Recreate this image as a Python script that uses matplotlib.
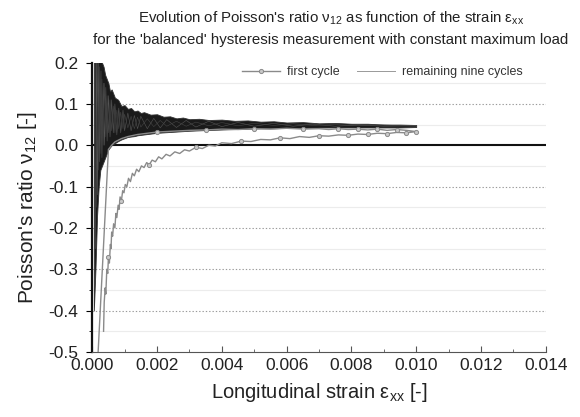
import matplotlib
matplotlib.use('Agg')
import matplotlib.pyplot as plt
from matplotlib.ticker import MultipleLocator, FormatStrFormatter

plt.rcParams['font.family'] = ['Liberation Sans', 'DejaVu Sans']
plt.rcParams['mathtext.fontset'] = 'custom'
plt.rcParams['mathtext.rm'] = 'Liberation Sans'
plt.rcParams['mathtext.it'] = 'Liberation Sans'
plt.rcParams['axes.unicode_minus'] = False

# remaining nine cycles: envelope of the dense band
nine_strain = [0.00005, 0.0001, 0.00015, 0.0002, 0.00025, 0.0003, 0.00035, 0.0004,
               0.00045, 0.0005, 0.00055, 0.0006, 0.0007, 0.0008, 0.0009, 0.001,
               0.0011, 0.0012, 0.0013, 0.0014, 0.0015, 0.0016, 0.0018, 0.002,
               0.0022, 0.0024, 0.0026, 0.0028, 0.003, 0.0033, 0.0036, 0.004,
               0.0044, 0.0048, 0.0052, 0.0056, 0.006, 0.0065, 0.007, 0.0075,
               0.008, 0.0085, 0.009, 0.0095, 0.01]
nine_upper = [0.25, 0.25, 0.25, 0.25, 0.22, 0.20, 0.19, 0.17,
              0.16, 0.15, 0.13, 0.135, 0.115, 0.11, 0.095, 0.097,
              0.088, 0.09, 0.082, 0.084, 0.078, 0.08, 0.074, 0.075,
              0.069, 0.07, 0.065, 0.067, 0.063, 0.064, 0.061, 0.062,
              0.059, 0.06, 0.057, 0.058, 0.055, 0.056, 0.053, 0.054,
              0.052, 0.052, 0.050, 0.050, 0.049]
nine_lower = [-0.40, -0.30, -0.17, -0.10, -0.06, -0.05, -0.04, -0.03,
              -0.02, -0.01, -0.005, 0.0, 0.005, 0.010, 0.014, 0.017,
              0.020, 0.021, 0.022, 0.024, 0.025, 0.026, 0.028, 0.030,
              0.031, 0.032, 0.033, 0.034, 0.035, 0.036, 0.037, 0.038,
              0.039, 0.040, 0.041, 0.041, 0.042, 0.042, 0.043, 0.043,
              0.043, 0.043, 0.043, 0.043, 0.044]

# two traces of single cycles inside the band
trace_strain = [0.0001, 0.00013, 0.00016, 0.0002, 0.00023, 0.00027, 0.0003, 0.00034,
                0.00038, 0.00042, 0.00046, 0.0005, 0.00055, 0.0006, 0.00065, 0.0007,
                0.00076, 0.00082, 0.00088, 0.00095, 0.001, 0.0011, 0.0012, 0.0013,
                0.0014, 0.0015, 0.0017, 0.0019, 0.0021, 0.0023, 0.0026, 0.0029,
                0.0032, 0.0036, 0.004, 0.0045, 0.005, 0.0056, 0.0062, 0.0068,
                0.0075, 0.0082, 0.009, 0.01]
trace_a = [-0.25, 0.22, -0.12, 0.2, -0.04, 0.18, -0.03, 0.15,
           0.0, 0.14, 0.01, 0.12, 0.02, 0.11, 0.03, 0.10,
           0.025, 0.09, 0.03, 0.085, 0.035, 0.078, 0.035, 0.072,
           0.04, 0.07, 0.04, 0.065, 0.042, 0.062, 0.043, 0.06,
           0.044, 0.058, 0.045, 0.055, 0.046, 0.053, 0.046, 0.051,
           0.046, 0.049, 0.046, 0.047]
trace_b = [0.25, -0.15, 0.21, -0.06, 0.19, -0.02, 0.16, 0.0,
           0.15, 0.02, 0.12, 0.03, 0.11, 0.035, 0.095, 0.03,
           0.085, 0.04, 0.08, 0.04, 0.075, 0.042, 0.07, 0.04,
           0.068, 0.044, 0.064, 0.045, 0.06, 0.046, 0.058, 0.046,
           0.056, 0.047, 0.055, 0.047, 0.053, 0.048, 0.052, 0.048,
           0.05, 0.047, 0.049, 0.046]

# first cycle: loading branch then unloading branch
first_strain = [0.00035, 0.00037, 0.0004, 0.00042, 0.00045, 0.00048, 0.0005, 0.00053,
                0.00056, 0.00058, 0.0006, 0.00063, 0.00066, 0.0007, 0.00073, 0.00076,
                0.0008, 0.00083, 0.00086, 0.0009, 0.00094, 0.00098, 0.00102, 0.00107,
                0.00112, 0.00118, 0.00124, 0.0013, 0.00137, 0.00144, 0.00152, 0.0016,
                0.00168, 0.00176, 0.00185, 0.00195, 0.00205, 0.00215, 0.00228, 0.0024,
                0.00255, 0.0027, 0.00285, 0.003, 0.0032, 0.0034, 0.0036, 0.0038,
                0.004, 0.0043, 0.0046, 0.0049, 0.0052, 0.0055, 0.0058, 0.0061,
                0.0064, 0.0067, 0.007, 0.0073, 0.0076, 0.0079, 0.0082, 0.0085,
                0.0088, 0.0091, 0.0094, 0.0097, 0.01,
                0.0097, 0.0094, 0.0091, 0.0088, 0.0085, 0.0082, 0.0079, 0.0076,
                0.0073, 0.007, 0.0065, 0.006, 0.0055, 0.005, 0.0045, 0.004,
                0.0035, 0.003, 0.0025, 0.002, 0.0017, 0.0014, 0.0011, 0.0009,
                0.0007, 0.0006, 0.0005, 0.00015]
first_nu = [-0.45, -0.38, -0.345, -0.36, -0.30, -0.31, -0.27, -0.285,
            -0.24, -0.25, -0.21, -0.22, -0.19, -0.20, -0.165, -0.175,
            -0.145, -0.155, -0.125, -0.135, -0.11, -0.115, -0.095, -0.10,
            -0.08, -0.088, -0.068, -0.074, -0.058, -0.064, -0.05, -0.054,
            -0.042, -0.047, -0.036, -0.04, -0.028, -0.033, -0.022, -0.026,
            -0.016, -0.02, -0.011, -0.014, -0.005, -0.008, 0.0, -0.002,
            0.006, 0.004, 0.01, 0.009, 0.014, 0.013, 0.018, 0.016,
            0.021, 0.019, 0.023, 0.022, 0.025, 0.024, 0.027, 0.026,
            0.029, 0.028, 0.031, 0.03, 0.033,
            0.036, 0.038, 0.036, 0.039, 0.037, 0.039, 0.038, 0.040,
            0.038, 0.040, 0.039, 0.041, 0.039, 0.040, 0.038, 0.039,
            0.037, 0.036, 0.034, 0.032, 0.029, 0.026, 0.021, 0.016,
            0.008, 0.0, -0.01, -0.55]

first_markers = [6, 19, 33, 44, 50, 54, 58, 61, 63, 65, 67, 68,
                 70, 72, 74, 76, 79, 82, 85, 88]

fig = plt.figure(figsize=(5.8, 4.17), dpi=100)
ax = fig.add_axes([0.159, 0.156, 0.782, 0.694])

ax.fill_between(nine_strain, nine_lower, nine_upper, color='#1a1a1a', lw=0.6,
                edgecolor='#333333', zorder=3)
ax.plot(trace_strain, trace_a, color='#555555', lw=0.4, zorder=4)
ax.plot(trace_strain, trace_b, color='#444444', lw=0.4, zorder=4)
ax.plot([], [], color='#999999', lw=0.7, label='remaining nine cycles')

ax.plot(first_strain, first_nu, color='#8a8a8a', lw=1.0, marker='o', ms=3.0,
        mfc='#c8c8c8', mec='#8a8a8a', mew=0.7, markevery=first_markers, zorder=5,
        label='first cycle')

ax.axhline(0.0, color='#111111', lw=1.5, zorder=2)

ax.set_xlim(0, 0.014)
ax.set_ylim(-0.5, 0.2)
ax.xaxis.set_major_locator(MultipleLocator(0.002))
ax.xaxis.set_minor_locator(MultipleLocator(0.001))
ax.yaxis.set_major_locator(MultipleLocator(0.1))
ax.yaxis.set_minor_locator(MultipleLocator(0.05))
ax.xaxis.set_major_formatter(FormatStrFormatter('%.3f'))
ax.yaxis.set_major_formatter(FormatStrFormatter('%.1f'))

for yv in [0.1, -0.1, -0.2, -0.3, -0.4]:
    ax.axhline(yv, color='#9a9a9a', lw=0.8, ls=(0, (1.2, 1.8)), zorder=1)
for yv in [0.15, 0.05, -0.05, -0.15, -0.25, -0.35, -0.45]:
    ax.axhline(yv, color='#ececec', lw=0.8, zorder=1)

ax.spines['top'].set_visible(False)
ax.spines['right'].set_visible(False)
ax.spines['left'].set_linewidth(1.6)
ax.spines['left'].set_color('#111111')
ax.spines['bottom'].set_color('#555555')
ax.tick_params(axis='x', which='major', direction='in', length=4, labelsize=12.5,
               colors='#555555', labelcolor='#222222', pad=4)
ax.tick_params(axis='x', which='minor', direction='in', length=2.5, colors='#555555')
ax.tick_params(axis='y', which='major', direction='out', length=4, labelsize=12.5,
               labelcolor='#222222', pad=6)
ax.tick_params(axis='y', which='minor', direction='out', length=2.5)

ax.set_xlabel("Longitudinal strain ε$_{xx}$ [-]", fontsize=14.5, color='#222222', labelpad=6)
ax.set_ylabel("Poisson's ratio ν$_{12}$ [-]", fontsize=15, color='#222222', labelpad=7)

handles, labels = ax.get_legend_handles_labels()
leg = ax.legend(handles[::-1], labels[::-1], loc='center', ncol=2, frameon=False,
                fontsize=9, bbox_to_anchor=(0.64, 0.966), handlelength=3.0,
                columnspacing=1.4, handletextpad=0.6)
for t in leg.get_texts():
    t.set_color('#333333')

fig.text(0.57, 0.957, "Evolution of Poisson's ratio ν$_{12}$ as function of the strain ε$_{xx}$",
         ha='center', va='center', fontsize=10.8, color='#222222')
fig.text(0.57, 0.903, "for the 'balanced' hysteresis measurement with constant maximum load",
         ha='center', va='center', fontsize=10.8, color='#222222')

fig.savefig('out.png', dpi=100)
